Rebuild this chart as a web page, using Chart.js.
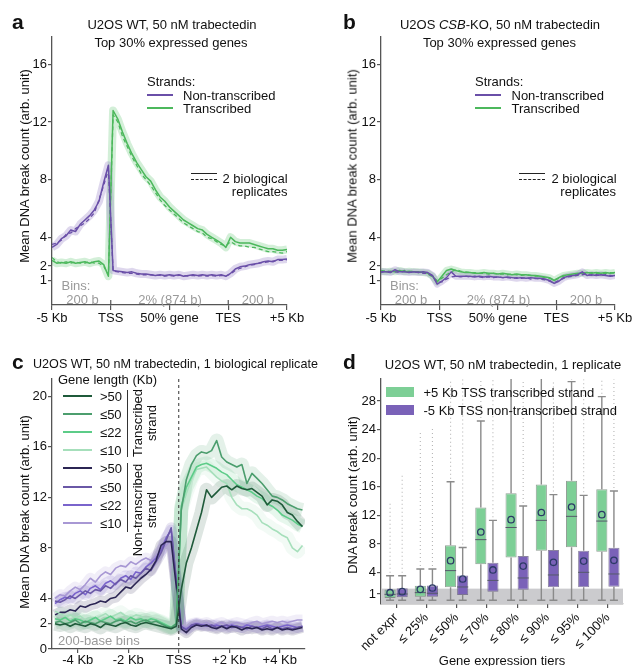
<!DOCTYPE html>
<html><head><meta charset="utf-8">
<script src="https://cdn.jsdelivr.net/npm/chart.js@4.4.1/dist/chart.umd.min.js"></script>
<style>
html,body{margin:0;padding:0;background:#fff;}
#wrap{position:relative;width:634px;height:666px;overflow:hidden;font-family:'Liberation Sans',Arial,sans-serif;color:#111;}
canvas{position:absolute;}
.t{position:absolute;white-space:nowrap;line-height:1;font-size:13px;}
.ln{position:absolute;height:0;}
.bx{position:absolute;}
</style></head><body><div id="wrap">
<canvas id="ca" width="317" height="330" style="left:0;top:0"></canvas>
<canvas id="cb" width="317" height="330" style="left:317px;top:0"></canvas>
<canvas id="cc" width="317" height="336" style="left:0;top:330px"></canvas>
<canvas id="cd" width="317" height="336" style="left:317px;top:330px"></canvas>
</div>
<script>
// ---------------- DATA ----------------
// Panels a/b: metagene bins (0 = -5 Kb, 25 = TSS, 75 = TES, 100 = +5 Kb)
const BINS = [0,2,4,6,8,10,12,14,16,18,20,22,24,26,28,30,32,34,36,38,40,42,44,46,48,50,52,54,56,58,60,62,64,66,68,70,72,74,76,78,80,82,84,86,88,90,92,94,96,98,100];
const AB_TICKS = [0,25,50,75,100];
const AB_TICK_LABELS = ['-5 Kb','TSS','50% gene','TES','+5 Kb'];
const AB_Y_TICKS = [1,2,4,8,12,16];

const A_NT_R1 = [3.3,3.5,3.9,4.1,4.5,4.4,4.9,5.2,5.5,5.9,6.5,7.8,9.0, 1.7,1.65,1.6,1.55,1.6,1.5,1.45,1.45,1.4,1.35, 1.4,1.35,1.4,1.35,1.4,1.3,1.35,1.4,1.35,1.4, 1.35,1.4,1.35,1.4,1.3,1.5,1.8,1.95,2.0,2.1, 2.15,2.2,2.3,2.35,2.3,2.45,2.45,2.5];
const A_NT_R2 = [3.5,3.6,3.8,4.2,4.3,4.6,4.8,5.0,5.3,5.7,6.6,7.6,8.7, 1.65,1.6,1.55,1.5,1.5,1.45,1.4,1.4,1.4,1.35, 1.35,1.3,1.35,1.3,1.35,1.35,1.3,1.35,1.3,1.35, 1.3,1.35,1.3,1.35,1.3,1.45,1.7,1.85,1.95,2.05, 2.1,2.2,2.25,2.3,2.35,2.4,2.4,2.45];
const A_T_R1 = [2.4,2.2,2.25,2.2,2.3,2.2,2.25,2.3,2.2,2.3,2.35,2.1,1.3, 12.8,12.2,11.3,10.5,9.8,9.2,8.7,8.2,7.9,7.3, 6.8,6.5,6.1,5.8,5.5,5.2,5.0,4.8,4.6,4.5, 4.2,4.0,3.8,3.6,3.3,4.0,3.7,3.6,3.6,3.6, 3.5,3.4,3.3,3.2,3.2,3.1,3.1,3.15];
const A_T_R2 = [2.6,2.3,2.2,2.3,2.2,2.3,2.2,2.2,2.3,2.2,2.2,2.0,1.4, 12.5,12.0,11.0,10.3,9.6,9.0,8.4,8.0,7.6,7.1, 6.6,6.2,5.9,5.6,5.3,5.0,4.8,4.6,4.4,4.3, 4.0,3.9,3.7,3.5,3.4,3.7,3.5,3.4,3.4,3.3, 3.3,3.2,3.1,3.0,3.0,2.95,2.9,3.0];

const B_NT_R1 = [1.6,1.6,1.55,1.75,1.6,1.6,1.55,1.6,1.55,1.6,1.55,1.35,0.75, 0.95,1.2,1.6,1.3,1.3,1.3,1.3,1.25,1.3,1.25, 1.3,1.25,1.25,1.2,1.25,1.2,1.15,1.2,1.15,1.2, 1.15,1.15,1.1,1.0,0.8,0.95,1.2,1.3,1.35,1.4, 1.6,1.35,1.4,1.35,1.4,1.35,1.3,1.35];
const B_NT_R2 = [1.55,1.65,1.6,1.6,1.55,1.65,1.6,1.55,1.6,1.5,1.5,1.3,0.85, 0.9,1.1,1.25,1.3,1.25,1.3,1.25,1.3,1.25,1.2, 1.25,1.2,1.25,1.2,1.2,1.15,1.2,1.15,1.2,1.1, 1.15,1.1,1.05,0.95,0.85,1.0,1.15,1.25,1.3,1.35, 1.4,1.45,1.35,1.4,1.35,1.4,1.35,1.3];
const B_T_R1 = [1.65,1.6,1.65,1.6,1.7,1.6,1.65,1.6,1.6,1.55,1.5,1.3,0.9, 1.3,1.7,1.8,1.7,1.6,1.55,1.55,1.5,1.5,1.55, 1.5,1.5,1.45,1.5,1.45,1.4,1.45,1.4,1.4,1.35, 1.35,1.3,1.25,1.2,1.0,1.2,1.35,1.4,1.45,1.5, 1.5,1.55,1.5,1.55,1.5,1.55,1.5,1.55];
const B_T_R2 = [1.7,1.65,1.6,1.65,1.6,1.7,1.6,1.65,1.55,1.6,1.45,1.25,1.0, 1.15,1.4,1.6,1.75,1.65,1.6,1.55,1.55,1.5,1.5, 1.45,1.5,1.45,1.45,1.4,1.45,1.4,1.35,1.4,1.35, 1.3,1.3,1.2,1.15,1.05,1.15,1.3,1.4,1.4,1.45, 1.5,1.5,1.55,1.5,1.5,1.5,1.55,1.5];

// Panel c: 200-base bins around TSS (Kb)
const KB = [-4.9,-4.7,-4.5,-4.3,-4.1,-3.9,-3.7,-3.5,-3.3,-3.1,-2.9,-2.7,-2.5,-2.3,-2.1,-1.9,-1.7,-1.5,-1.3,-1.1,-0.9,-0.7,-0.5,-0.3,-0.1,0.1,0.3,0.5,0.7,0.9,1.1,1.3,1.5,1.7,1.9,2.1,2.3,2.5,2.7,2.9,3.1,3.3,3.5,3.7,3.9,4.1,4.3,4.5,4.7,4.9];
const C_X_TICKS = [-4,-2,0,2,4];
const C_X_LABELS = ['-4 Kb','-2 Kb','TSS','+2 Kb','+4 Kb'];
const C_Y_TICKS = [0,2,4,8,12,16,20];
const LENGTH_CLASSES = ['>50','≤50','≤22','≤10'];

const C_T_GT50 = [2.0,1.9,2.0,1.8,2.0,1.9,1.8,2.0,1.9,1.7,2.0,1.9,1.8,2.0,2.1,1.9,1.8,2.0,2.1,2.0,1.9,1.8,1.7,1.6,1.8, 4.7,6.8,8.0,9.4,10.8,12.6,12.0,12.4,12.8,12.9,12.6,12.9,12.7,12.6,12.7,12.4,12.1,11.4,11.8,11.7,11.4,10.8,10.6,10.1,9.7];
const C_T_LE50 = [2.1,2.2,2.0,2.1,2.3,2.0,2.2,2.1,2.0,2.2,2.1,2.0,2.2,2.3,2.1,2.2,2.0,2.2,2.3,2.1,2.2,2.0,1.8,1.7,2.0, 11.0,13.4,14.6,15.3,15.6,15.5,15.7,16.5,15.2,14.8,14.6,14.4,14.6,13.1,13.9,13.5,13.1,12.6,12.1,12.0,11.8,11.5,11.3,11.1,11.0];
const C_T_LE22 = [2.4,2.3,2.5,2.2,2.4,2.3,2.1,2.3,2.5,2.2,2.4,2.6,2.3,2.4,2.2,2.5,2.3,2.4,2.2,2.4,2.3,2.1,1.9,1.7,2.0, 11.3,12.8,13.6,14.4,14.6,14.7,14.5,14.3,14.0,13.8,13.4,13.0,12.8,12.6,12.4,12.1,11.9,11.5,11.3,11.0,10.6,10.4,10.2,9.9,9.7];
const C_T_LE10 = [3.0,2.8,2.6,2.7,2.5,2.6,2.3,2.5,2.4,2.6,2.8,2.5,2.7,2.9,2.6,2.5,2.7,2.6,2.4,2.5,2.3,2.2,2.0,1.8,2.0, 11.0,12.3,13.4,14.2,14.3,14.4,14.0,13.6,13.3,13.1,12.0,11.4,11.1,11.1,10.9,10.6,10.0,9.8,9.5,9.3,9.0,8.8,8.0,7.7,8.2];
const C_NT_GT50 = [2.7,2.9,2.9,3.1,3.0,3.4,3.3,3.5,3.6,3.8,3.7,4.0,4.1,4.5,4.9,4.8,5.2,5.6,5.9,6.3,7.0,8.2,8.5,8.5,5.0, 1.6,1.3,1.7,1.9,1.8,1.9,1.7,1.6,1.8,1.6,1.8,1.7,1.5,1.7,1.6,1.7,1.5,1.6,1.5,1.7,1.5,1.6,1.5,1.6,1.7];
const C_NT_LE50 = [3.8,3.7,3.9,4.2,4.0,4.3,4.6,4.4,4.7,4.6,5.0,4.8,5.2,5.5,5.3,5.8,5.6,6.0,6.4,6.2,6.9,7.6,8.6,9.6,5.5, 1.8,1.5,1.9,2.0,1.9,1.8,1.9,1.7,1.8,1.9,1.7,1.8,1.7,1.6,1.8,1.7,1.6,1.8,1.6,1.7,1.6,1.7,1.6,1.7,1.8];
const C_NT_LE22 = [3.6,3.9,4.1,4.0,4.4,4.6,4.3,4.8,5.0,4.7,5.2,5.4,5.1,5.6,5.8,5.5,6.1,6.0,6.5,6.8,7.2,7.8,8.8,9.4,5.5, 1.7,1.6,1.8,2.0,1.9,1.9,1.8,1.9,1.8,1.7,1.9,1.8,1.7,1.9,1.8,1.7,1.8,1.9,1.8,1.7,1.8,1.9,1.8,1.7,1.8];
const C_NT_LE10 = [4.0,4.3,4.2,4.6,4.9,4.7,5.1,5.6,5.3,5.8,6.1,5.9,6.4,6.6,6.5,6.9,6.7,7.0,7.2,7.0,7.4,7.8,8.2,8.6,5.0, 1.9,1.7,2.0,2.1,2.0,2.1,1.9,2.0,2.1,1.9,2.0,2.1,2.0,1.9,2.1,2.2,2.0,2.1,2.2,2.1,2.2,2.1,2.2,2.3,2.3];

// Panel d: box plots per expression tier
const TIERS = ['not expr','≤ 25%','≤ 50%','≤ 70%','≤ 80%','≤ 90%','≤ 95%','≤ 100%'];
const D_Y_TICKS = [1,4,8,12,16,20,24,28];
const G_Q1   = [0.45,0.63,1.94,5.15,6.1,7.06,7.53,6.92];
const G_Q3   = [1.63,2.17,7.8,13.1,15.1,16.3,16.85,15.64];
const G_MED  = [0.95,1.19,4.27,8.6,10.3,11.3,11.86,11.2];
const G_MEAN = [1.18,1.65,5.66,9.67,11.4,12.4,13.17,12.1];
const G_WHI  = [3.56,4.5,16.7,25.2,32,32,30.7,28.6];
const G_WLO  = [0.12,0.12,0.12,0.12,0.12,0.12,0.12,0.12];
const G_OUTMAX = [13.9,23.7,31,31,31,31,31,31];
const P_Q1   = [0.54,0.63,0.86,1.33,1.6,1.93,1.93,2.02];
const P_Q3   = [1.8,2.2,3.6,5.38,6.3,7.15,7.06,7.48];
const P_MED  = [1.0,1.1,1.98,2.9,3.24,3.66,4.03,3.8];
const P_MEAN = [1.33,1.84,3.1,4.36,4.9,5.43,5.6,5.71];
const P_WHI  = [3.56,4.5,7.5,11.3,13.3,14.9,14.8,15.4];
const P_WLO  = [0.12,0.12,0.12,0.12,0.12,0.12,0.12,0.12];
const P_OUTMAX = [17.9,24.1,31,31,31,31,31,31];
const D_BACKGROUND_LEVEL = 1.75;

// ---------------- STYLE ----------------
Chart.defaults.font.family = "'Liberation Sans', Arial, sans-serif";
Chart.defaults.font.size = 13;
Chart.defaults.color = '#111';
Chart.defaults.animation = false;
const AXC = '#555';
const PUR = '#6a4fa8', GRN = '#4cb85c';
const PUR_RIB = 'rgba(125,95,185,0.25)', GRN_RIB = 'rgba(80,190,100,0.25)';

function fixedTicks(vals){ return s => { s.ticks = vals.map(v => ({value: v})); }; }
function pts(xs, ys){ return ys.map((y,i) => ({x: xs[i], y})); }
function lineDs(xs, ys, color, o = {}) {
  return Object.assign({data: pts(xs, ys), borderColor: color, borderWidth: 1.5, pointRadius: 0,
    tension: 0, fill: false, order: 1, clip: 0, borderJoinStyle: 'round'}, o);
}
function ribbonDs(xs, ys, color, w) {
  return {data: pts(xs, ys), borderColor: color, borderWidth: w, pointRadius: 0, tension: 0,
    fill: false, order: 10, clip: 0, borderJoinStyle: 'round', borderCapStyle: 'butt'};
}

function axisOpts(o) {
  return {
    type: o.type || 'linear', min: o.min, max: o.max,
    afterBuildTicks: o.ticks ? fixedTicks(o.ticks) : undefined,
    afterFit: o.fit,
    ticks: Object.assign({autoSkip: false, maxRotation: 0, padding: o.pad != null ? o.pad : 1, color: '#111', font: {size: 13}}, o.tickOpts || {}),
    grid: {display: true, drawOnChartArea: false, drawTicks: true, tickLength: o.tl || 4, color: AXC, lineWidth: 1.2, offset: false},
    border: {display: true, color: AXC, width: 1.3}
  };
}

const crossTicks = {
  id: 'crossTicks',
  afterDraw(chart, args, opts) {
    if (!opts.values) return;
    const {ctx, chartArea} = chart, xs = chart.scales.x;
    ctx.save(); ctx.strokeStyle = AXC; ctx.lineWidth = 1.2;
    opts.values.forEach(v => { const px = xs.getPixelForValue(v);
      ctx.beginPath(); ctx.moveTo(px, chartArea.bottom - 5); ctx.lineTo(px, chartArea.bottom); ctx.stroke(); });
    ctx.restore();
  }
};
const vDash = {
  id: 'vDash',
  afterDatasetsDraw(chart, args, opts) {
    if (opts.value == null) return;
    const {ctx, chartArea} = chart, px = chart.scales.x.getPixelForValue(opts.value);
    ctx.save(); ctx.strokeStyle = '#333'; ctx.lineWidth = 1; ctx.setLineDash([3,3]);
    ctx.beginPath(); ctx.moveTo(px, chartArea.top); ctx.lineTo(px, chartArea.bottom); ctx.stroke(); ctx.restore();
  }
};

function profile(id, data, yAxisW, padRight, ribW) {
  const [nt1, nt2, t1, t2] = data;
  return new Chart(document.getElementById(id), {
    type: 'line',
    data: {datasets: [
      lineDs(BINS, nt1, PUR), lineDs(BINS, nt2, PUR, {borderDash: [4,3], borderWidth: 1.3}),
      lineDs(BINS, t1, GRN), lineDs(BINS, t2, GRN, {borderDash: [4,3], borderWidth: 1.3}),
      ribbonDs(BINS, nt1, PUR_RIB, ribW), ribbonDs(BINS, t1, GRN_RIB, ribW)
    ]},
    options: {
      responsive: false, devicePixelRatio: 1,
      layout: {padding: {left: 0, top: 37, right: padRight, bottom: 0}},
      plugins: {legend: {display: false}, tooltip: {enabled: false}, crossTicks: {values: [25, 75]}},
      scales: {
        x: axisOpts({min: 0, max: 100, ticks: AB_TICKS, tl: 5, pad: 1, fit: s => { s.height = 25; },
          tickOpts: {callback: v => AB_TICK_LABELS[AB_TICKS.indexOf(v)]}}),
        y: axisOpts({min: -0.7, max: 17.9, ticks: AB_Y_TICKS, tl: 4, pad: 1, fit: s => { s.width = yAxisW; }})
      }
    },
    plugins: [crossTicks]
  });
}
profile('ca', [A_NT_R1, A_NT_R2, A_T_R1, A_T_R2], 52, 30, 8);
profile('cb', [B_NT_R1, B_NT_R2, B_T_R1, B_T_R2], 64, 19, 7);

// Panel c
const C_COLORS_T  = ['#1f5a3a','#4c9e6e','#5ccc88','#a6dfbb'];
const C_COLORS_NT = ['#2b2553','#6a58a6','#7a64cc','#a898d4'];
const C_T  = [C_T_GT50, C_T_LE50, C_T_LE22, C_T_LE10];
const C_NT = [C_NT_GT50, C_NT_LE50, C_NT_LE22, C_NT_LE10];
function rgba(hex, a){ const n = parseInt(hex.slice(1),16); return `rgba(${n>>16},${(n>>8)&255},${n&255},${a})`; }
const cSets = [];
C_T.forEach((d,i) => cSets.push(lineDs(KB, d, C_COLORS_T[i], {borderWidth: 1.6})));
C_NT.forEach((d,i) => cSets.push(lineDs(KB, d, C_COLORS_NT[i], {borderWidth: 1.6})));
C_T.forEach((d,i) => cSets.push(ribbonDs(KB, d, rgba(C_COLORS_T[i], 0.15), 14)));
C_NT.forEach((d,i) => cSets.push(ribbonDs(KB, d, rgba(C_COLORS_NT[i], 0.16), 11)));
new Chart(document.getElementById('cc'), {
  type: 'line', data: {datasets: cSets},
  options: {
    responsive: false, devicePixelRatio: 1,
    layout: {padding: {left: 0, top: 49, right: 12, bottom: 0}},
    plugins: {legend: {display: false}, tooltip: {enabled: false}, vDash: {value: 0}},
    scales: {
      x: axisOpts({min: -5.02, max: 5.0, ticks: C_X_TICKS, tl: 4, pad: 0, fit: s => { s.height = 17; },
        tickOpts: {callback: v => C_X_LABELS[C_X_TICKS.indexOf(v)]}}),
      y: axisOpts({min: 0, max: 21.37, ticks: C_Y_TICKS, tl: 4, pad: 1, fit: s => { s.width = 52; }})
    }
  },
  plugins: [vDash]
});

// Panel d
const GBOX = '#7dcf96', PBOX = '#7a62b8';
const boxPlugin = {
  id: 'boxExtras',
  beforeDatasetsDraw(chart) {
    const {ctx, chartArea} = chart, y = chart.scales.y;
    ctx.save();
    ctx.fillStyle = '#cbcbce';
    const yb = y.getPixelForValue(D_BACKGROUND_LEVEL);
    ctx.fillRect(chartArea.left, yb, chartArea.right - chartArea.left, chartArea.bottom - yb);
    ctx.beginPath(); ctx.rect(chartArea.left, chartArea.top, chartArea.right - chartArea.left, chartArea.bottom - chartArea.top); ctx.clip();
    const stats = [[G_Q1,G_Q3,G_WHI,G_WLO,G_OUTMAX],[P_Q1,P_Q3,P_WHI,P_WLO,P_OUTMAX]];
    stats.forEach((st, di) => {
      const meta = chart.getDatasetMeta(di);
      meta.data.forEach((el, i) => {
        const x = el.x;
        if (st[4][i] > st[2][i]) {
          ctx.strokeStyle = 'rgba(110,110,110,0.5)'; ctx.lineWidth = 1.1; ctx.setLineDash([1,3]);
          ctx.beginPath(); ctx.moveTo(x, y.getPixelForValue(st[2][i]) - 3); ctx.lineTo(x, y.getPixelForValue(st[4][i])); ctx.stroke();
          ctx.setLineDash([]);
        }
        ctx.strokeStyle = '#8a8a8a'; ctx.lineWidth = 1.4;
        ctx.beginPath();
        ctx.moveTo(x, y.getPixelForValue(st[1][i])); ctx.lineTo(x, y.getPixelForValue(st[2][i]));
        ctx.moveTo(x, y.getPixelForValue(st[0][i])); ctx.lineTo(x, y.getPixelForValue(st[3][i]));
        ctx.moveTo(x - 4, y.getPixelForValue(st[2][i])); ctx.lineTo(x + 4, y.getPixelForValue(st[2][i]));
        ctx.moveTo(x - 4, y.getPixelForValue(st[3][i])); ctx.lineTo(x + 4, y.getPixelForValue(st[3][i]));
        ctx.stroke();
      });
    });
    ctx.restore();
  },
  afterDatasetsDraw(chart) {
    const {ctx} = chart, y = chart.scales.y;
    ctx.save();
    [[G_MED,G_MEAN],[P_MED,P_MEAN]].forEach((st, di) => {
      chart.getDatasetMeta(di).data.forEach((el, i) => {
        const x = el.x, w = el.width;
        ctx.strokeStyle = '#55596a'; ctx.lineWidth = 1;
        ctx.beginPath(); const ym = y.getPixelForValue(st[0][i]);
        ctx.moveTo(x - w/2, ym); ctx.lineTo(x + w/2, ym); ctx.stroke();
        ctx.strokeStyle = '#2c3a66'; ctx.lineWidth = 1.3;
        ctx.beginPath(); ctx.arc(x, y.getPixelForValue(st[1][i]), 3.2, 0, Math.PI * 2); ctx.stroke();
      });
    });
    ctx.restore();
  }
};
new Chart(document.getElementById('cd'), {
  type: 'bar',
  data: {labels: TIERS, datasets: [
    {data: G_Q1.map((q,i) => [q, G_Q3[i]]), backgroundColor: GBOX, borderColor: 'rgba(100,120,105,0.7)', borderWidth: 1, borderSkipped: false, barPercentage: 0.92, categoryPercentage: 0.8},
    {data: P_Q1.map((q,i) => [q, P_Q3[i]]), backgroundColor: PBOX, borderColor: 'rgba(90,80,120,0.7)', borderWidth: 1, borderSkipped: false, barPercentage: 0.92, categoryPercentage: 0.8}
  ]},
  options: {
    responsive: false, devicePixelRatio: 1,
    layout: {padding: {left: 0, top: 49, right: 11, bottom: 0}},
    plugins: {legend: {display: false}, tooltip: {enabled: false}},
    scales: {
      x: axisOpts({type: 'category', tl: 4, pad: 2, fit: s => { s.height = 62; },
        tickOpts: {minRotation: 45, maxRotation: 45}}),
      y: axisOpts({min: -0.4, max: 31.07, ticks: D_Y_TICKS, tl: 4, pad: 1, fit: s => { s.width = 64; }})
    }
  },
  plugins: [boxPlugin]
});

// ---------------- TEXT / LEGENDS ----------------
const wrap = document.getElementById('wrap');
function T(html, x, y, o = {}) {
  const d = document.createElement('div');
  d.className = 't'; d.innerHTML = html;
  d.style.left = x + 'px'; d.style.top = y + 'px';
  if (o.size) d.style.fontSize = o.size + 'px';
  if (o.color) d.style.color = o.color;
  if (o.bold) d.style.fontWeight = 'bold';
  if (o.lh) { d.style.lineHeight = o.lh + 'px'; d.style.textAlign = 'center'; }
  const tx = o.align === 'center' ? '-50%' : o.align === 'right' ? '-100%' : '0';
  d.style.transform = `translate(${tx},-50%)` + (o.rot ? ` rotate(${o.rot}deg)` : '');
  wrap.appendChild(d);
}
function L(x1, x2, y, color, w, style) {
  const d = document.createElement('div'); d.className = 'ln';
  d.style.left = x1 + 'px'; d.style.width = (x2 - x1) + 'px'; d.style.top = (y - w/2) + 'px';
  d.style.borderTop = `${w}px ${style || 'solid'} ${color}`;
  wrap.appendChild(d);
}
function VL(x, y1, y2, color) {
  const d = document.createElement('div'); d.className = 'ln';
  d.style.left = x + 'px'; d.style.top = y1 + 'px'; d.style.height = (y2 - y1) + 'px'; d.style.width = '0';
  d.style.borderLeft = `1.2px solid ${color}`; wrap.appendChild(d);
}
function R(x, y, w, h, color) {
  const d = document.createElement('div'); d.className = 'bx';
  Object.assign(d.style, {left: x + 'px', top: y + 'px', width: w + 'px', height: h + 'px', background: color});
  wrap.appendChild(d);
}
const GREY = '#9a9a9a';
const YT = 'Mean DNA break count (arb. unit)';

// a
T('a', 12, 21, {size: 21, bold: true});
T('U2OS WT, 50 nM trabectedin', 172, 24, {align: 'center'});
T('Top 30% expressed genes', 171, 42, {align: 'center'});
T(YT, 23.5, 166, {align: 'center', rot: -90});
T('Strands:', 147, 81);
L(147, 173, 94.5, PUR, 2); T('Non-transcribed', 183, 94.5);
L(147, 173, 107.5, GRN, 2); T('Transcribed', 183, 107.5);
L(191, 217, 174, '#222', 1.4); L(191, 217, 179.3, '#222', 1.4, 'dashed');
T('2 biological', 222.5, 177.5); T('replicates', 287.5, 191, {align: 'right'});
T('Bins:', 61.5, 285, {color: GREY});
T('200 b', 82.5, 299, {color: GREY, align: 'center'});
T('2% (874 b)', 170, 299, {color: GREY, align: 'center'});
T('200 b', 258, 299, {color: GREY, align: 'center'});

// b
T('b', 343, 21, {size: 21, bold: true});
T('U2OS <i>CSB</i>-KO, 50 nM trabectedin', 500, 24, {align: 'center'});
T('Top 30% expressed genes', 499.5, 42, {align: 'center'});
T(YT, 351.5, 166, {align: 'center', rot: -90});
T('Strands:', 475, 81);
L(475, 501, 94.5, PUR, 2); T('Non-transcribed', 511.5, 94.5);
L(475, 501, 107.5, GRN, 2); T('Transcribed', 511.5, 107.5);
L(519, 545, 174, '#222', 1.4); L(519, 545, 179.3, '#222', 1.4, 'dashed');
T('2 biological', 551.5, 177.5); T('replicates', 616, 191, {align: 'right'});
T('Bins:', 390, 285, {color: GREY});
T('200 b', 411, 299, {color: GREY, align: 'center'});
T('2% (874 b)', 498.5, 299, {color: GREY, align: 'center'});
T('200 b', 586, 299, {color: GREY, align: 'center'});

// c
T('c', 12, 361, {size: 21, bold: true});
T('U2OS WT, 50 nM trabectedin, 1 biological replicate', 33, 363.5, {size: 12.6});
T(YT, 23.5, 512, {align: 'center', rot: -90});
T('Gene length (Kb)', 58, 378.5);
const C_ROWS = [395.7, 413.5, 431.7, 449.7, 467.7, 486.5, 504.8, 523.2];
LENGTH_CLASSES.forEach((lab, i) => { L(63, 92, C_ROWS[i], C_COLORS_T[i], 2); T(lab, 100, C_ROWS[i]); });
LENGTH_CLASSES.forEach((lab, i) => { L(63, 92, C_ROWS[i+4], C_COLORS_NT[i], 2); T(lab, 100, C_ROWS[i+4]); });
VL(126.5, 390, 457, '#333'); VL(126.5, 463, 532, '#333');
T('Transcribed<br>strand', 144.5, 422.5, {align: 'center', rot: -90, lh: 14});
T('Non-transcribed<br>strand', 144.5, 510, {align: 'center', rot: -90, lh: 14});
T('200-base bins', 58, 640, {color: GREY});

// d
T('d', 343, 361, {size: 21, bold: true});
T('U2OS WT, 50 nM trabectedin, 1 replicate', 503, 363.5, {align: 'center'});
T('DNA break count (arb. unit)', 352, 494.5, {align: 'center', rot: -90});
T('Gene expression tiers', 502, 659.5, {align: 'center'});
R(386, 386.7, 27.5, 10, GBOX); T('+5 Kb TSS transcribed strand', 423.5, 391.7);
R(386, 405.2, 27.5, 10, PBOX); T('-5 Kb TSS non-transcribed strand', 423.5, 410.2);
</script>
</body></html>
